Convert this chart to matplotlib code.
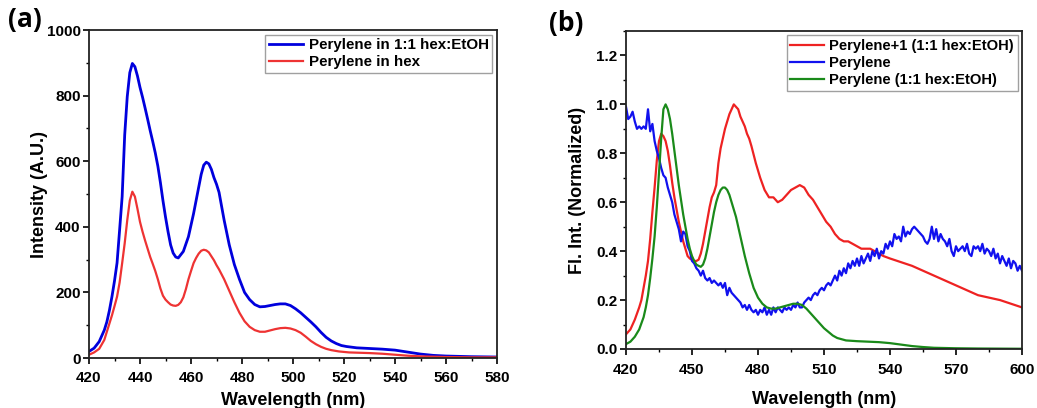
import numpy as np
import matplotlib
matplotlib.use('Agg')
import matplotlib.pyplot as plt
from matplotlib.ticker import MultipleLocator

plt.rcParams['font.family'] = ['Liberation Sans', 'DejaVu Sans']
plt.rcParams['font.weight'] = 'bold'

# ---- panel (a): emission spectra ----
wl_mix_a = [420, 422, 424, 426, 427, 428, 429, 430, 431, 432, 433, 434, 435, 436, 437,
            438, 439, 440, 441, 442, 443, 444, 445, 446, 447, 448, 449, 450, 451, 452,
            453, 454, 455, 457, 459, 461, 463, 464, 465, 466, 467, 468, 469, 470, 471,
            473, 475, 477, 479, 481, 483, 485, 487, 489, 491, 493, 495, 497, 499, 501,
            503, 505, 507, 509, 511, 513, 515, 517, 519, 521, 525, 530, 535, 540, 545,
            550, 555, 560, 570, 580]
mix_a = [20, 30, 50, 85, 110, 145, 187, 235, 290, 390, 492, 680, 797, 870, 898,
         888, 860, 825, 795, 762, 728, 693, 660, 625, 585, 535, 480, 430, 385, 345,
         320, 308, 305, 325, 370, 440, 520, 560, 588, 597, 592, 575, 550, 530, 505,
         420, 345, 285, 240, 200, 178, 163, 156, 157, 160, 163, 165, 165, 160, 150,
         138, 124, 110, 95, 78, 63, 52, 44, 38, 35, 31, 29, 27, 24, 18,
         12, 8, 6, 4, 3]

wl_hex_a = [420, 422, 424, 426, 427, 428, 429, 430, 431, 432, 433, 434, 435, 436, 437,
            438, 439, 440, 441, 442, 443, 444, 445, 446, 447, 448, 449, 450, 451, 452,
            453, 454, 455, 456, 457, 458, 459, 460, 461, 462, 463, 464, 465, 466, 467,
            468, 469, 470, 471, 473, 475, 477, 479, 481, 483, 485, 487, 489, 491, 493,
            495, 497, 499, 501, 503, 505, 507, 509, 511, 513, 515, 518, 522, 526, 530,
            535, 540, 545, 550, 560, 570, 580]
hex_a = [10, 17, 28, 55, 80, 105, 130, 158, 187, 230, 289, 350, 420, 480, 507,
         492, 455, 415, 385, 358, 333, 308, 287, 265, 240, 212, 190, 178, 170, 163,
         160, 159, 162, 170, 185, 210, 240, 265, 289, 305, 318, 327, 330, 328, 322,
         310, 298, 283, 270, 240, 205, 170, 138, 112, 95, 85, 80, 80, 84, 88,
         91, 92, 90, 85, 77, 65, 52, 42, 34, 28, 24, 20, 17, 16, 15,
         13, 10, 7, 5, 3, 2, 2]

# ---- panel (b): normalized spectra ----
wl_red = [420, 422, 424, 426, 427, 428, 429, 430, 431, 432, 433, 434, 435, 436, 437,
          438, 439, 440, 441, 442, 443, 444, 445, 446, 447, 448, 449, 450, 451, 452,
          453, 454, 455, 456, 457, 458, 459, 460, 461, 462, 463, 464, 465, 466, 467,
          468, 469, 470, 471, 472, 473, 474, 475, 476, 477, 479, 481, 483, 485, 487,
          489, 491, 493, 495, 497, 499, 501, 503, 505, 507, 509, 511, 513, 515, 517,
          519, 521, 523, 525, 527, 529, 531, 533, 535, 537, 540, 545, 550, 555, 560,
          565, 570, 575, 580, 585, 590, 595, 600]
red_b = [0.06, 0.08, 0.12, 0.17, 0.20, 0.25, 0.30, 0.36, 0.45, 0.56, 0.66, 0.77, 0.85, 0.88, 0.87,
         0.85, 0.81, 0.75, 0.68, 0.62, 0.57, 0.52, 0.48, 0.44, 0.41, 0.38, 0.37, 0.365, 0.36, 0.36,
         0.365, 0.39, 0.43, 0.48, 0.53, 0.58, 0.62, 0.64, 0.67, 0.76, 0.82, 0.86, 0.90, 0.93, 0.96,
         0.98, 1.00, 0.99, 0.98, 0.95, 0.93, 0.91, 0.88, 0.86, 0.83, 0.76, 0.70, 0.65, 0.62, 0.62,
         0.60, 0.61, 0.63, 0.65, 0.66, 0.67, 0.66, 0.63, 0.61, 0.58, 0.55, 0.52, 0.50, 0.47, 0.45,
         0.44, 0.44, 0.43, 0.42, 0.41, 0.41, 0.41, 0.40, 0.39, 0.38, 0.37, 0.355, 0.34, 0.32, 0.30,
         0.28, 0.26, 0.24, 0.22, 0.21, 0.20, 0.185, 0.17]

wl_green = [420, 422, 424, 426, 428, 429, 430, 431, 432, 433, 434, 435, 436, 437, 438,
            439, 440, 441, 442, 443, 444, 445, 446, 447, 448, 449, 450, 451, 452, 453,
            454, 455, 456, 457, 458, 459, 460, 461, 462, 463, 464, 465, 466, 467, 468,
            470, 472, 474, 476, 478, 480, 482, 484, 486, 488, 490, 492, 494, 496, 498,
            500, 502, 504, 506, 508, 510, 512, 514, 516, 518, 520, 525, 530, 535, 540,
            545, 550, 555, 560, 570, 580, 600]
green_b = [0.02, 0.03, 0.05, 0.08, 0.13, 0.17, 0.22, 0.29, 0.37, 0.46, 0.58, 0.72, 0.86, 0.98, 1.00,
           0.98, 0.94, 0.88, 0.81, 0.74, 0.67, 0.61, 0.55, 0.50, 0.45, 0.41, 0.38, 0.36, 0.345, 0.34,
           0.336, 0.345, 0.37, 0.41, 0.46, 0.51, 0.56, 0.60, 0.63, 0.65, 0.66, 0.66, 0.65, 0.63, 0.60,
           0.54, 0.46, 0.38, 0.31, 0.25, 0.21, 0.185, 0.17, 0.165, 0.165, 0.17, 0.175, 0.18, 0.185, 0.185,
           0.18, 0.165, 0.145, 0.125, 0.105, 0.085, 0.07, 0.055, 0.045, 0.04, 0.035, 0.032, 0.03, 0.028, 0.024,
           0.018, 0.012, 0.008, 0.005, 0.003, 0.002, 0.001]

wl_blue = np.arange(420, 601)
blue_b = [0.99, 0.94, 0.95, 0.97, 0.93, 0.90, 0.91, 0.90, 0.91, 0.90, 0.98, 0.89, 0.92, 0.85, 0.81,
          0.78, 0.74, 0.71, 0.70, 0.66, 0.63, 0.60, 0.55, 0.52, 0.49, 0.44, 0.48, 0.47, 0.42, 0.40,
          0.36, 0.35, 0.33, 0.32, 0.30, 0.32, 0.29, 0.28, 0.29, 0.27, 0.28, 0.27, 0.26, 0.27, 0.25,
          0.27, 0.22, 0.25, 0.23, 0.22, 0.21, 0.20, 0.19, 0.17, 0.18, 0.16, 0.18, 0.16, 0.15, 0.16,
          0.14, 0.16, 0.15, 0.17, 0.14, 0.16, 0.14, 0.17, 0.15, 0.17, 0.16, 0.15, 0.17, 0.16, 0.17,
          0.16, 0.18, 0.17, 0.19, 0.17, 0.17, 0.19, 0.20, 0.21, 0.20, 0.22, 0.23, 0.22, 0.24, 0.25,
          0.24, 0.26, 0.27, 0.26, 0.28, 0.30, 0.28, 0.32, 0.30, 0.33, 0.31, 0.35, 0.33, 0.36, 0.34,
          0.37, 0.34, 0.38, 0.35, 0.37, 0.39, 0.36, 0.40, 0.38, 0.41, 0.37, 0.40, 0.39, 0.43, 0.41,
          0.44, 0.42, 0.47, 0.45, 0.46, 0.44, 0.50, 0.46, 0.48, 0.47, 0.49, 0.50, 0.49, 0.48, 0.47,
          0.46, 0.44, 0.43, 0.45, 0.50, 0.45, 0.49, 0.44, 0.47, 0.45, 0.44, 0.42, 0.45, 0.40, 0.38,
          0.42, 0.40, 0.41, 0.42, 0.40, 0.43, 0.39, 0.38, 0.42, 0.41, 0.42, 0.40, 0.43, 0.39, 0.41,
          0.40, 0.38, 0.41, 0.37, 0.39, 0.35, 0.38, 0.36, 0.34, 0.37, 0.33, 0.36, 0.35, 0.32, 0.34,
          0.32]

fig = plt.figure(figsize=(10.37, 4.08), dpi=100)
W, H = 1037, 408
ax1 = fig.add_axes([89 / W, 1 - 358 / H, 408 / W, 328 / H])
ax2 = fig.add_axes([626 / W, 1 - 349 / H, 396 / W, 318 / H])

ax1.plot(wl_mix_a, mix_a, color='#0000dd', lw=2.0, label='Perylene in 1:1 hex:EtOH')
ax1.plot(wl_hex_a, hex_a, color='#ee3333', lw=1.6, label='Perylene in hex')
ax1.set_xlim(420, 580)
ax1.set_ylim(0, 1000)
ax1.xaxis.set_major_locator(MultipleLocator(20))
ax1.xaxis.set_minor_locator(MultipleLocator(10))
ax1.yaxis.set_major_locator(MultipleLocator(200))
ax1.yaxis.set_minor_locator(MultipleLocator(100))
ax1.set_xlabel('Wavelength (nm)', fontsize=13, fontweight='bold', labelpad=5)
ax1.set_ylabel('Intensity (A.U.)', fontsize=13, fontweight='bold', labelpad=-1)

ax2.plot(wl_red, red_b, color='#ee2222', lw=1.6, label='Perylene+1 (1:1 hex:EtOH)')
ax2.plot(wl_blue, blue_b, color='#1111ee', lw=1.6, label='Perylene')
ax2.plot(wl_green, green_b, color='#1a8a1a', lw=1.6, label='Perylene (1:1 hex:EtOH)')
ax2.set_xlim(420, 600)
ax2.set_ylim(0, 1.3)
ax2.xaxis.set_major_locator(MultipleLocator(30))
ax2.xaxis.set_minor_locator(MultipleLocator(15))
ax2.yaxis.set_major_locator(MultipleLocator(0.2))
ax2.yaxis.set_minor_locator(MultipleLocator(0.1))
ax2.set_xlabel('Wavelength (nm)', fontsize=13, fontweight='bold', labelpad=10)
ax2.set_ylabel('Fl. Int. (Normalized)', fontsize=13, fontweight='bold', labelpad=7.5)
ax2.yaxis.set_major_formatter(plt.FormatStrFormatter('%.1f'))

for ax, xpad, lfs in ((ax1, 5.5, 10.9), (ax2, 6, 10.6)):
    ax.tick_params(which='major', direction='out', length=4, width=1.2,
                   labelsize=11, pad=2)
    ax.tick_params(axis='x', which='major', pad=xpad)
    ax.tick_params(which='minor', direction='out', length=2.5, width=1.0)
    for lab in ax.get_xticklabels() + ax.get_yticklabels():
        lab.set_fontweight('bold')
    for s in ax.spines.values():
        s.set_linewidth(1.3)
        s.set_color('#222222')
    leg = ax.legend(loc='upper right', fontsize=lfs, frameon=True, fancybox=False,
                    handlelength=2.3, handletextpad=0.35, borderpad=0.25,
                    labelspacing=0.2, borderaxespad=0.3)
    leg.get_frame().set_edgecolor('#888888')
    leg.get_frame().set_linewidth(1.0)
    for t in leg.get_texts():
        t.set_fontweight('bold')

fig.text(8 / W, 1 - 20 / H, '(a)', fontsize=19, fontweight='bold',
         family=['Open Sans', 'DejaVu Sans'], va='center', ha='left')
fig.text(549 / W, 1 - 24 / H, '(b)', fontsize=19, fontweight='bold',
         family=['Open Sans', 'DejaVu Sans'], va='center', ha='left')

fig.savefig('out.png', dpi=100)
